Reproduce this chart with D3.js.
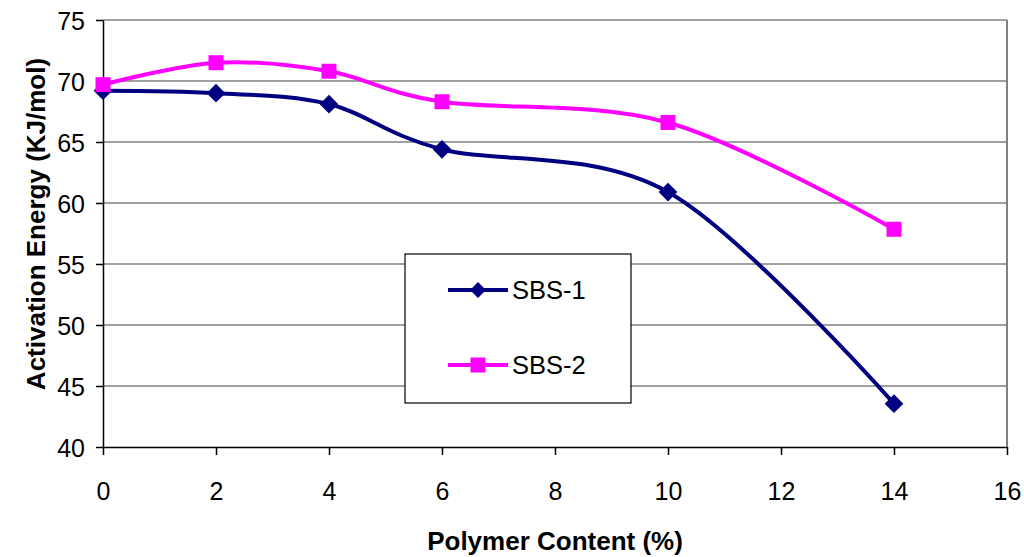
<!DOCTYPE html>
<meta charset="utf-8">
<style>
body { margin: 0; background: #fff; font-family: Arial, "Liberation Sans", sans-serif; }
.tick text { font-size: 25px; fill: #000; font-family: Arial, "Liberation Sans", sans-serif; }
.title { font-size: 26px; font-weight: bold; }
</style>
<body>
<script src="https://cdn.jsdelivr.net/npm/d3@7"></script>
<script>
// data
var content = [0, 2, 4, 6, 10, 14];
var sbs1 = [69.2, 69.0, 68.1, 64.4, 60.9, 43.55];
var sbs2 = [69.7, 71.5, 70.8, 68.3, 66.6, 57.85];
var seriesNames = ["SBS-1", "SBS-2"];
var xTicks = [0, 2, 4, 6, 8, 10, 12, 14, 16];
var yTicks = [40, 45, 50, 55, 60, 65, 70, 75];

var W = 1024, H = 557;
var margin = {top: 20, right: 17, bottom: 110, left: 103},
    width = W - margin.left - margin.right,
    height = H - margin.top - margin.bottom;

var x = d3.scaleLinear().domain([0, 16]).range([0, width]);
var y = d3.scaleLinear().domain([40, 75]).range([height, 0]);

var svg = d3.select("body").append("svg")
    .attr("width", W)
    .attr("height", H)
  .append("g")
    .attr("transform", "translate(" + margin.left + "," + margin.top + ")");

// grid lines
svg.selectAll(".grid")
    .data(yTicks.filter(function(d) { return d > 40; }))
  .enter().append("line")
    .attr("x1", 0).attr("x2", width)
    .attr("y1", function(d) { return y(d); })
    .attr("y2", function(d) { return y(d); })
    .attr("stroke", "#808080")
    .attr("stroke-width", 1.5);

// right border
svg.append("line")
    .attr("x1", width).attr("x2", width)
    .attr("y1", 0).attr("y2", height)
    .attr("stroke", "#808080")
    .attr("stroke-width", 2);

// axes
var xAxis = svg.append("g")
    .attr("transform", "translate(0," + height + ")")
    .call(d3.axisBottom(x).tickValues(xTicks).tickSize(8).tickPadding(27).tickSizeOuter(0));
var yAxis = svg.append("g")
    .call(d3.axisLeft(y).tickValues(yTicks).tickSize(7).tickPadding(11).tickSizeOuter(0));
svg.selectAll(".domain, .tick line").attr("stroke", "#000").attr("stroke-width", 1.5);
yAxis.selectAll(".tick text").attr("dy", "0.36em");

// lines
var line = d3.line()
    .x(function(d, i) { return x(content[i]); })
    .y(function(d) { return y(d); })
    .curve(d3.curveCatmullRom.alpha(0));

var colors = ["#000080", "#ff00ff"];
var series = [sbs1, sbs2];

series.forEach(function(s, k) {
  svg.append("path")
      .datum(s)
      .attr("fill", "none")
      .attr("stroke", colors[k])
      .attr("stroke-width", 4)
      .attr("d", line);
});

function drawMarker(g, k, cx, cy, big) {
  if (k === 0) {
    var sz = big ? 175 : 125;
    g.append("path")
        .attr("d", d3.symbol().type(d3.symbolSquare).size(sz)())
        .attr("transform", "translate(" + cx + "," + cy + ") rotate(45)")
        .attr("fill", colors[0]);
  } else {
    var h = big ? 7.5 : 7.5;
    g.append("rect")
        .attr("x", cx - h).attr("y", cy - h)
        .attr("width", 2 * h).attr("height", 2 * h)
        .attr("fill", colors[1]);
  }
}

series.forEach(function(s, k) {
  s.forEach(function(v, i) {
    drawMarker(svg, k, x(content[i]), y(v), true);
  });
});

// legend
var legend = svg.append("g").attr("transform", "translate(" + (405 - margin.left) + "," + (254 - margin.top) + ")");
legend.append("rect")
    .attr("width", 226).attr("height", 149)
    .attr("fill", "#fff")
    .attr("stroke", "#000")
    .attr("stroke-width", 1.2);
seriesNames.forEach(function(name, k) {
  var ly = 36 + k * 75;
  legend.append("line")
      .attr("x1", 43).attr("x2", 103)
      .attr("y1", ly).attr("y2", ly)
      .attr("stroke", colors[k])
      .attr("stroke-width", 4);
  drawMarker(legend, k, 73, ly, false);
  legend.append("text")
      .attr("x", 107).attr("y", ly)
      .attr("dy", "0.36em")
      .style("font-size", "25.5px")
      .text(name);
});

// axis titles
svg.append("text")
    .attr("class", "title")
    .attr("x", 555 - margin.left)
    .attr("y", height + 103)
    .style("text-anchor", "middle")
    .text("Polymer Content (%)");

svg.append("text")
    .attr("class", "title")
    .attr("transform", "rotate(-90)")
    .attr("x", -(224 - margin.top))
    .attr("y", -58)
    .style("text-anchor", "middle")
    .text("Activation Energy (KJ/mol)");
</script>
</body>
